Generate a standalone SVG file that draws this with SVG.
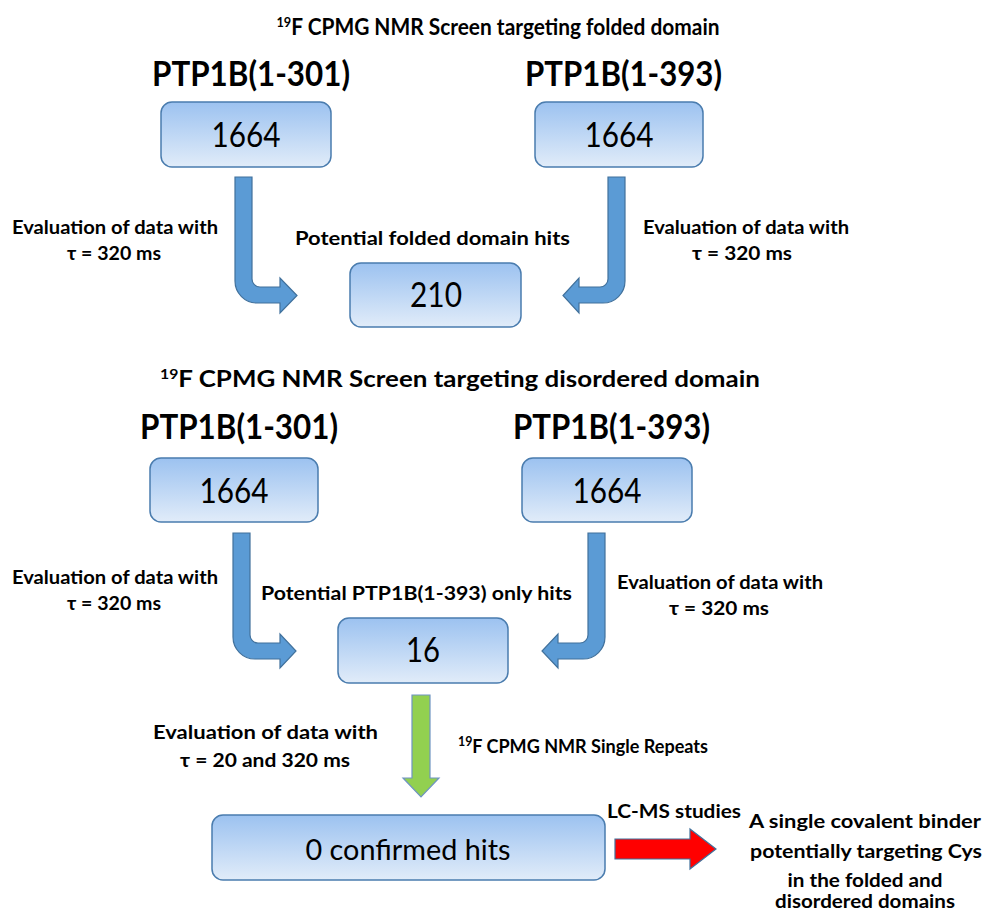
<svg xmlns="http://www.w3.org/2000/svg" width="985" height="912" viewBox="0 0 985 912">
<defs>
<linearGradient id="boxg" x1="0" y1="0" x2="0" y2="1">
<stop offset="0" stop-color="#9cc2f0"/>
<stop offset="1" stop-color="#e1ecf9"/>
</linearGradient>
<style>
.box{fill:url(#boxg);stroke:#4a7cae;stroke-width:1.5}
.t{font-family:Lato,"Open Sans","Liberation Sans",sans-serif;fill:#000;text-anchor:middle}
.num{font-size:34px}
.ptp{font-size:34px;font-weight:bold}
.ttl{font-size:23px;font-weight:bold}
.ev{font-size:19px;font-weight:bold}
.blue{fill:#5b9bd5;stroke:#41719c;stroke-width:1.2}
.green{fill:#92d050;stroke:#6f94c2;stroke-width:1.2}
.red{fill:#ff0000;stroke:#41719c;stroke-width:1.2}
</style>
</defs>
<rect width="985" height="912" fill="#fff"/>

<g id="titles">
<text class="t ttl" x="498" y="35" textLength="443" lengthAdjust="spacingAndGlyphs"><tspan font-size="14" dy="-8">19</tspan><tspan dy="8">F CPMG NMR Screen targeting folded domain</tspan></text>
<text class="t ptp" x="251" y="86" textLength="198" lengthAdjust="spacingAndGlyphs">PTP1B(1-301)</text>
<text class="t ptp" x="623.5" y="86" textLength="197" lengthAdjust="spacingAndGlyphs">PTP1B(1-393)</text>
<text class="t ttl" x="460" y="387" textLength="600" lengthAdjust="spacingAndGlyphs"><tspan font-size="14" dy="-8">19</tspan><tspan dy="8">F CPMG NMR Screen targeting disordered domain</tspan></text>
<text class="t ptp" x="239" y="439" textLength="198" lengthAdjust="spacingAndGlyphs">PTP1B(1-301)</text>
<text class="t ptp" x="611.5" y="439" textLength="197" lengthAdjust="spacingAndGlyphs">PTP1B(1-393)</text>
</g>

<g id="n1">
<rect class="box" x="161" y="102" width="170" height="65" rx="11"/>
<text class="t num" x="246" y="147" textLength="69" lengthAdjust="spacingAndGlyphs">1664</text>
</g>
<g id="n2">
<rect class="box" x="535" y="102" width="168" height="65" rx="11"/>
<text class="t num" x="619" y="147" textLength="69" lengthAdjust="spacingAndGlyphs">1664</text>
</g>
<g id="n3">
<text class="t ev" x="432.5" y="245" textLength="275" lengthAdjust="spacingAndGlyphs">Potential folded domain hits</text>
<rect class="box" x="350" y="263" width="171" height="64" rx="11"/>
<text class="t num" x="436" y="307" textLength="52" lengthAdjust="spacingAndGlyphs">210</text>
</g>
<g id="n4">
<rect class="box" x="150" y="458" width="168" height="64" rx="11"/>
<text class="t num" x="234" y="503" textLength="69" lengthAdjust="spacingAndGlyphs">1664</text>
</g>
<g id="n5">
<rect class="box" x="522" y="458" width="170" height="64" rx="11"/>
<text class="t num" x="607" y="503" textLength="69" lengthAdjust="spacingAndGlyphs">1664</text>
</g>
<g id="n6">
<text class="t ev" x="416.5" y="600" textLength="311" lengthAdjust="spacingAndGlyphs">Potential PTP1B(1-393) only hits</text>
<rect class="box" x="338" y="618" width="170" height="65" rx="11"/>
<text class="t num" x="423" y="662" textLength="34" lengthAdjust="spacingAndGlyphs">16</text>
</g>
<g id="n7">
<rect class="box" x="212" y="815" width="393" height="65" rx="11"/>
<text class="t" x="408" y="860" font-size="29" textLength="205" lengthAdjust="spacingAndGlyphs">0 confirmed hits</text>
</g>
<g id="n8">
<text class="t ev" x="865" y="828" font-size="21" textLength="232" lengthAdjust="spacingAndGlyphs">A single covalent binder</text>
<text class="t ev" x="866" y="858" font-size="21" textLength="232" lengthAdjust="spacingAndGlyphs">potentially targeting Cys</text>
<text class="t ev" x="865" y="887" font-size="21" textLength="155" lengthAdjust="spacingAndGlyphs">in the folded and</text>
<text class="t ev" x="865" y="908" font-size="21" textLength="180" lengthAdjust="spacingAndGlyphs">disordered domains</text>
</g>

<g id="connectors">
<path class="blue" d="M235,177 H252 V279 A8,8 0 0 0 260,287 H280 V278 L297,295.5 L280,313 V303 H257 A22,22 0 0 1 235,281 Z"/>
<path class="blue" d="M625,177 H608 V279 A8,8 0 0 1 600,287 H579 V278 L563,295.5 L579,313 V303 H603 A22,22 0 0 0 625,281 Z"/>
<path class="blue" d="M233,533 H250 V635 A8,8 0 0 0 258,643 H280 V634 L296,651 L280,668 V659 H255 A22,22 0 0 1 233,637 Z"/>
<path class="blue" d="M605,533 H588 V635 A8,8 0 0 1 580,643 H558 V634 L542,651 L558,668 V659 H583 A22,22 0 0 0 605,637 Z"/>
<path class="green" d="M412,695 H430 V778 H439 L421,797 L403,778 H412 Z"/>
<path class="red" d="M615,839 H690 V829 L716,849 L690,869 V859 H615 Z"/>
<text class="t ev" x="115" y="234" textLength="206" lengthAdjust="spacingAndGlyphs">Evaluation of data with</text>
<text class="t ev" x="114" y="260" textLength="94" lengthAdjust="spacingAndGlyphs">τ = 320 ms</text>
<text class="t ev" x="746" y="234" textLength="206" lengthAdjust="spacingAndGlyphs">Evaluation of data with</text>
<text class="t ev" x="742" y="260" textLength="100" lengthAdjust="spacingAndGlyphs">τ = 320 ms</text>
<text class="t ev" x="115" y="584" textLength="206" lengthAdjust="spacingAndGlyphs">Evaluation of data with</text>
<text class="t ev" x="114" y="610" textLength="94" lengthAdjust="spacingAndGlyphs">τ = 320 ms</text>
<text class="t ev" x="720" y="589" textLength="206" lengthAdjust="spacingAndGlyphs">Evaluation of data with</text>
<text class="t ev" x="719" y="615" textLength="100" lengthAdjust="spacingAndGlyphs">τ = 320 ms</text>
<text class="t ev" x="265.5" y="739" textLength="225" lengthAdjust="spacingAndGlyphs">Evaluation of data with</text>
<text class="t ev" x="265" y="767" textLength="170" lengthAdjust="spacingAndGlyphs">τ = 20 and 320 ms</text>
<text class="t ev" x="583" y="753" textLength="250" lengthAdjust="spacingAndGlyphs"><tspan font-size="13" dy="-7">19</tspan><tspan dy="7">F CPMG NMR Single Repeats</tspan></text>
<text class="t ev" x="674" y="818" textLength="134" lengthAdjust="spacingAndGlyphs">LC-MS studies</text>
</g>
</svg>
